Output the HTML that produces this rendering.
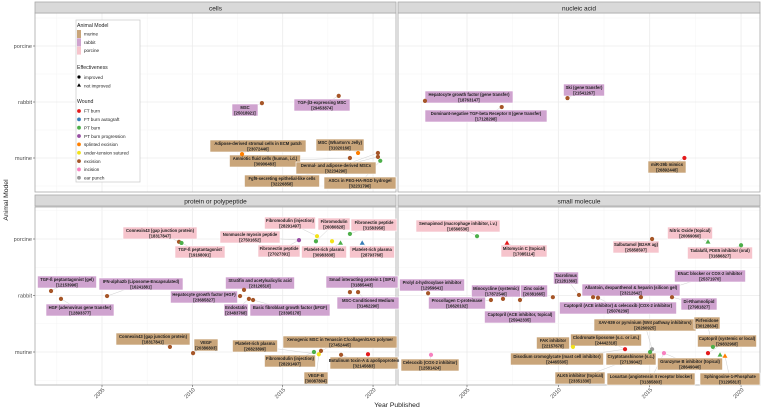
<!DOCTYPE html>
<html><head><meta charset="utf-8"><style>
html,body{margin:0;padding:0;background:#fff;}
svg{display:block;font-family:"Liberation Sans",sans-serif;}
</style></head><body>
<svg id="chart" width="761" height="412" viewBox="0 0 761 412"></svg>
<script>
// ---- data ----
const panelNames = ["cells","nucleic acid","protein or polypeptide","small molecule"];
const rowNames = ["murine","rabbit","porcine"];
const xTicks = [2005,2010,2015,2020];
const woundNames = ["FT burn","FT burn autograft","PT burn","PT burn progression","splinted excision","under-tension sutured","excision","incision","ear punch"];
const woundColors = ["#e41a1c","#377eb8","#4daf4a","#984ea3","#ff7f00","#f2e21a","#a65628","#f781bf","#999999"];
const animalFills = ["#c9a57a","#cfa3cf","#f6c4cc"];
// dots: panel, year, row value, wound index, shape (0 circle,1 triangle)
const dotPanel = [0,0,0,0,0,0,0,0, 1,1,1,1,
 2,2,2,2,2,2,2,2,2, 2,2,2,2,2,2,2,2,2, 2,2,2,2,2,2,2,
 3,3,3,3,3, 3,3,3,3,3,3,3,3,3,3, 3,3,3,3,3,3,3,3,3,3];
const dotYear = [2013.85,2018.1,2012.75,2019.17,2018.72,2020.27,2020.27,2020.4, 2002.7,2006.9,2010.5,2016.9,
 2009.26,2009.4,2016.9,2016.84,2018.72,2015.9,2017.73,2018.2,2019.4,
 2002.18,2002.73,2005.28,2012.64,2012.86,2013.13,2013.36,2018.72,2019.17,
 2008.76,2010.04,2016.73,2017.0,2017.12,2018.23,2019.72,
 2005.55,2007.19,2015.13,2018.19,2020.0,
 2002.87,2006.31,2006.97,2007.9,2009.7,2011.13,2011.9,2012.17,2014.52,2016.22,
 2003.03,2010.8,2013.65,2015.13,2015.02,2015.78,2018.19,2018.46,2018.85,2019.12];
const dotRow = [0.98,1.11,0.07,0.09,0.0,0.09,0.02,-0.05, 1.02,0.91,1.07,0.0,
 1.95,1.93,2.05,1.96,2.09,1.98,1.96,1.93,1.93,
 1.08,0.94,0.99,0.99,1.1,0.94,0.92,1.06,1.06,
 0.09,-0.02,0.0,-0.04,0.02,-0.05,-0.04,
 2.05,1.93,2.0,1.95,1.89,
 1.04,0.92,0.94,0.92,0.97,1.01,0.97,0.96,0.97,0.97,
 -0.05,0.09,0.05,0.05,0.0,-0.02,-0.02,0.09,-0.05,-0.07];
const dotWound = [6,6,4,4,6,6,6,2, 6,6,6,0,
 6,2,5,2,2,3,5,2,1,
 6,6,6,6,6,6,6,6,6,
 6,6,2,5,6,6,0,
 2,0,6,2,2,
 6,6,6,6,6,6,6,6,6,6,
 7,5,0,8,2,7,0,2,2,4];
const dotShape = [0,0,0,0,0,0,0,0, 0,0,0,0,
 0,0,0,0,0,0,0,1,1,
 0,0,0,0,0,0,0,0,0,
 0,0,0,0,0,0,0,
 0,1,0,1,0,
 0,0,0,0,0,0,0,0,0,0,
 0,0,0,0,0,0,0,0,1,1];
// label annotations: panel, animal row, name, pmid, center x, center y, width (layout), anchor dot index
const labels = [
[0,1,"MSC","25018921",245,110,26,0],
[0,1,"TGF-β3-expressing MSC","29453874",322,105,56,1],
[0,0,"Adipose-derived stromal cells in ECM patch","23072446",258,146,96,2],
[0,0,"MSC (Wharton's Jelly)","31020166",340,145,48,3],
[0,0,"Amniotic fluid cells (human, i.d.)","30906483",265,161,71,4],
[0,0,"Dermal- and adipose-derived MSCs","32234290",336,168,80,5],
[0,0,"Fgf9-secreting epithelial-like cells","32226858",282,181,75,6],
[0,0,"ASCs in PEG-HA-RGD hydrogel","32231796",360,183,72,7],
[1,1,"Hepatocyte growth factor (gene transfer)","18763147",469,97,88,8],
[1,1,"Dominant-negative TGF-beta Receptor II (gene transfer)","17128298",486,116,122,9],
[1,1,"Ski (gene transfer)","21541267",584,90,41,10],
[1,0,"miR-29b mimics","26892448",667,167,38,11],
[2,2,"Connexin43 (gap junction protein)","18317847",160,233,74,12],
[2,2,"TGF-ß peptantagonist","19168091",200,252,50,13],
[2,2,"Fibromodulin (injection)","28291497",290,223,51,14],
[2,2,"Fibromodulin","26080828",334,224,32,15],
[2,2,"Fibronectin peptide","31583958",374,225,46,16],
[2,2,"Nonmuscle myosin peptide","27501652",250,237,60,17],
[2,2,"Fibronectin peptide","27027391",279,251,42,17],
[2,2,"Platelet-rich plasma","30983838",324,252,45,19],
[2,2,"Platelet-rich plasma","28793768",372,252,45,20],
[2,1,"TGF-ß peptantagonist (gel)","12153996",67,282,59,21],
[2,1,"HGF (adenovirus gene transfer)","12893377",80,310,68,22],
[2,1,"IFN-alpha2b (Liposome-Encapsulated)","16241881",141,284,84,23],
[2,1,"Hepatocyte growth factor (HGF)","23685827",204,297,67,24],
[2,1,"Stratifin and acetylsalicylic acid","23126510",260,283,69,25],
[2,1,"Endostatin","23483768",236,310,24,26],
[2,1,"Basic fibroblast growth factor (bFGF)","23395178",290,310,80,27],
[2,1,"Smad interacting protein 1 (SIP1)","31885443",362,282,72,28],
[2,1,"MSC-Conditioned Medium","31462290",368,303,62,29],
[2,0,"Connexin43 (gap junction protein)","18317841",153,339,74,30],
[2,0,"VEGF","20386803",206,345,24,31],
[2,0,"Platelet-rich plasma","26823899",255,346,45,33],
[2,0,"Xenogenic MSC in Tenascin C/collagen/GAG polymer","27452445",340,342,114,34],
[2,0,"Fibromodulin (injection)","28291497",290,361,51,32],
[2,0,"VEGF-B","30087804",316,378,24,33],
[2,0,"Botulinum toxin-A & apolipoprotein","32145683",364,363,68,35],
[3,2,"Semapimod (macrophage inhibitor, i.v.)","16566536",458,226,84,37],
[3,2,"Mitomycin C (topical)","17085114",524,251,46,38],
[3,2,"Salbutamol (B2AR ag)","25858597",636,247,46,39],
[3,2,"Nitric Oxide (topical)","20069060",690,233,45,40],
[3,2,"Tadalafil, PDE5 inhibitor (oral)","31686827",720,253,65,41],
[3,1,"Prolyl 4-hydroxylase inhibitor","12959641",432,285,65,42],
[3,1,"Procollagen C-proteinase","16620102",457,303,57,43],
[3,1,"Minocycline (systemic)","17872546",496,291,49,44],
[3,1,"Zinc oxide","20381665",534,291,27,45],
[3,1,"Captopril (ACE inhibitor, topical)","25942335",520,317,71,45],
[3,1,"Tacrolimus","21281369",566,278,25,47],
[3,1,"Allantoin, dexpanthenol & heparin (silicon gel)","23212642",631,290,98,48],
[3,1,"Captopril (ACE inhibitor) & celecoxib (COX-2 inhibitor)","25076239",618,308,117,49],
[3,1,"ENaC blocker or COX-2 inhibitor","25371970",710,276,71,50],
[3,1,"Di-Rhamnolipid","27981827",699,304,36,51],
[3,0,"Celecoxib (COX-2 inhibitor)","12581424",430,365,58,52],
[3,0,"FAK inhibitor","22157678",553,343,33,53],
[3,0,"Clodronate liposome (s.c. or i.m.)","24442318",606,340,71,54],
[3,0,"Disodium cromoglycate (mast cell inhibitor)","24465505",557,359,93,54],
[3,0,"XAV-939 or pyrvinium (Wnt pathway inhibitors)","26260925",645,325,102,55],
[3,0,"Pirfenidone","30128634",707,323,26,59],
[3,0,"Cryptotanshinone (s.c.)","27139042",631,359,50,56],
[3,0,"Granzyme B inhibitor (topical)","28649046",690,364,65,57],
[3,0,"Captopril (systemic or local)","29832968",727,341,59,58],
[3,0,"ALK5 inhibitor (topical)","23351330",580,378,50,56],
[3,0,"Losartan (angiotensin II receptor blocker)","31385803",651,379,88,57],
[3,0,"Sphingosine-1-Phosphate","31295813",730,379,60,61]
];
// ---- layout ----
const NS="http://www.w3.org/2000/svg";
const svg=document.getElementById('chart');
function mk(tag,attrs,parent){const e=document.createElementNS(NS,tag);for(const k in attrs)e.setAttribute(k,attrs[k]);(parent||svg).appendChild(e);return e;}
const panels=[
 {x0:35,x1:396,y0:13,y1:192,sy:2,sh:11},
 {x0:398,x1:760,y0:13,y1:192,sy:2,sh:11},
 {x0:35,x1:396,y0:207,y1:385,sy:195,sh:11},
 {x0:398,x1:760,y0:207,y1:385,sy:195,sh:11}];
function xScale(p,yr){ if(p%2===0) return 102+(yr-2005)*18.07; return 467+(yr-2005)*18.27; }
function yScale(p,v){ if(p<2) return 158-v*56; return 352-v*56.5; }

panels.forEach((P,pi)=>{
 const g=mk('g',{});
 
 
 mk('rect',{x:P.x0,y:P.y0,width:P.x1-P.x0,height:P.y1-P.y0,fill:'#fff'},g);
 // grid
 for(let yr=2000;yr<=2022.5;yr+=2.5){const x=xScale(pi,yr); if(x>P.x0&&x<P.x1) mk('line',{x1:x,x2:x,y1:P.y0,y2:P.y1,stroke:yr%5===0?'#ebebeb':'#f4f4f4','stroke-width':yr%5===0?0.8:0.5},g);}
 for(let v=-0.5;v<=2.5;v+=0.5){const y=yScale(pi,v); if(y>P.y0&&y<P.y1) mk('line',{x1:P.x0,x2:P.x1,y1:y,y2:y,stroke:v%1===0?'#ebebeb':'#f4f4f4','stroke-width':v%1===0?0.8:0.5},g);}
 mk('rect',{x:P.x0,y:P.y0,width:P.x1-P.x0,height:P.y1-P.y0,fill:'none',stroke:'#a8a8a8','stroke-width':0.8},g);
 const s=mk('rect',{x:P.x0,y:P.sy,width:P.x1-P.x0,height:P.sh,fill:'#d9d9d9',stroke:'#a8a8a8','stroke-width':0.8},g);
 
 
 const st=mk('text',{x:(P.x0+P.x1)/2,y:P.sy+8.3,'text-anchor':'middle','font-size':6.5,fill:'#1a1a1a'},g);
 st.textContent=panelNames[pi];
 
 
 if(pi%2===0){
  rowNames.forEach((r,ri)=>{const y=yScale(pi,ri);
   mk('line',{x1:P.x0-2,x2:P.x0,y1:y,y2:y,stroke:'#555','stroke-width':0.6},g);
   const t=mk('text',{x:P.x0-3,y:y+2,'text-anchor':'end','font-size':5.6,fill:'#4d4d4d'},g);t.textContent=r;
   
   });
 }
 if(pi>=2){
  xTicks.forEach(yr=>{const x=xScale(pi,yr);
   mk('line',{x1:x,x2:x,y1:P.y1,y2:P.y1+2,stroke:'#555','stroke-width':0.6},g);
   const t=mk('text',{x:x+3,y:P.y1+5,'text-anchor':'end','font-size':5.6,fill:'#4d4d4d',transform:`rotate(-45 ${x+3} ${P.y1+5})`},g);t.textContent=yr;
   
   });
 }
});
// connectors
const cg=mk('g',{});
labels.forEach(L=>{const d=L[7];const p=dotPanel[d];
 mk('line',{x1:xScale(p,dotYear[d]),y1:yScale(p,dotRow[d]),x2:L[4],y2:L[5],stroke:'#cfcfcf','stroke-width':0.5},cg);});
// labels
labels.forEach(L=>{
 const g=mk('g',{});
 
 
 mk('rect',{x:L[4]-L[6]/2,y:L[5]-6,width:L[6],height:12,fill:animalFills[L[1]],stroke:'#fff','stroke-width':0.6},g);
 const t1=mk('text',{x:L[4],y:L[5]-1,'text-anchor':'middle','font-size':4.2,'font-weight':'bold',fill:'#222'},g);t1.textContent=L[2];
 const t2=mk('text',{x:L[4],y:L[5]+4.5,'text-anchor':'middle','font-size':4.2,'font-weight':'bold',fill:'#222'},g);t2.textContent='['+L[3]+']';
});
// dots
dotYear.forEach((yr,i)=>{const p=dotPanel[i];const x=xScale(p,yr),y=yScale(p,dotRow[i]);const c=woundColors[dotWound[i]];
 let e;
 if(dotShape[i]===0) e=mk('circle',{cx:x,cy:y,r:2.1,fill:c});
 else e=mk('path',{d:`M${x},${y-2.6}L${x+2.5},${y+1.8}L${x-2.5},${y+1.8}Z`,fill:c});
 
 
});
// axis titles
const yt=mk('text',{x:8,y:200,'text-anchor':'middle','font-size':6.8,fill:'#1a1a1a',transform:'rotate(-90 8 200)'});yt.textContent='Animal Model';


const xt=mk('text',{x:397,y:407,'text-anchor':'middle','font-size':6.8,fill:'#1a1a1a'});xt.textContent='Year Published';


// legend
const lg=mk('g',{});


mk('rect',{x:76,y:20,width:64,height:162,fill:'#fff',stroke:'#c8c8c8','stroke-width':0.7},lg);
function lt(x,y,s,fs){const t=mk('text',{x:x,y:y,'font-size':fs||4.6,fill:'#222'},lg);t.textContent=s;return t;}
lt(77,27,'Animal Model',5.2);
rowNames.forEach((r,i)=>{const y=30+i*8.3;mk('rect',{x:77,y:y,width:4,height:8,fill:animalFills[i]},lg);const t=lt(84,y+5.5,r);
 
 });
lt(77,69,'Effectiveness',5.2);
mk('circle',{cx:79,cy:77,r:1.6,fill:'#000'},lg);lt(84,79,'improved');
mk('path',{d:'M79,83.2L81,86.6L77,86.6Z',fill:'#000'},lg);lt(84,87.5,'not improved');
lt(77,103,'Wound',5.2);
woundNames.forEach((w,i)=>{const y=111+i*8.35;mk('circle',{cx:79,cy:y,r:1.9,fill:woundColors[i]},lg);const t=lt(84,y+1.7,w);
 
 });
</script>
</body></html>
